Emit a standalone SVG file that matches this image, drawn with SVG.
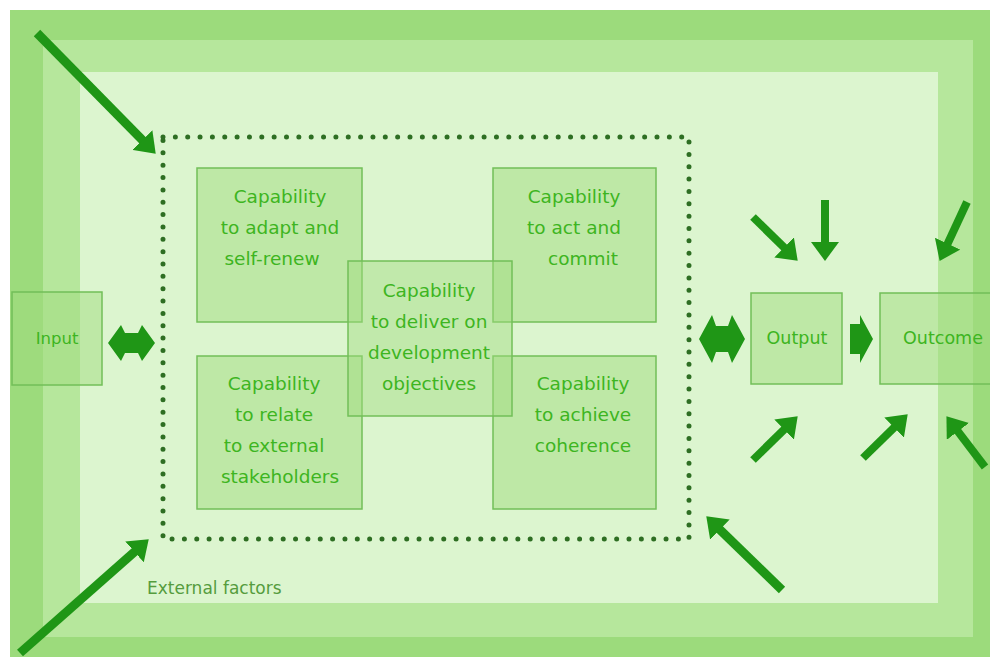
<svg xmlns="http://www.w3.org/2000/svg" width="990" height="657" viewBox="0 0 990 657">
<style>
.box{fill:#a0dc7e;fill-opacity:0.5;stroke:#72bf58;stroke-width:1.5}
.t{font-family:"DejaVu Sans","Liberation Sans",sans-serif;font-size:18.5px;fill:#3db521;text-anchor:middle}
.s{font-size:17.5px}
.arr{stroke:#1f9616;stroke-width:8;fill:none;marker-end:url(#ah)}
.big{stroke-width:9}
.dh{fill:#1f9616}
</style>
<defs>
<marker id="ah" markerUnits="userSpaceOnUse" markerWidth="19" markerHeight="28" refX="6" refY="14" orient="auto">
<path d="M0,0 L19,14 L0,28 z" fill="#1f9616"/>
</marker>
</defs>
<rect width="990" height="657" fill="#ffffff"/>
<rect x="10" y="10" width="980" height="647" fill="#9cdb7c"/>
<rect x="43" y="40" width="930" height="597" fill="#b6e79c"/>
<rect x="80" y="72" width="858" height="531" fill="#dcf5cf"/>
<rect x="163" y="137" width="526" height="402" fill="none" stroke="#2e6e23" stroke-width="5" stroke-linecap="round" stroke-dasharray="0 12.35"/>
<text class="t s" x="147" y="594" style="text-anchor:start;fill:#559c3e;font-size:17px">External factors</text>
<g id="input"><rect class="box" x="12" y="292" width="90" height="93"/><text class="t" x="57" y="344" style="font-size:16.5px">Input</text></g>
<g id="adapt"><rect class="box" x="197" y="168" width="165" height="154"/>
<text class="t" x="280" y="203">Capability</text><text class="t" x="280" y="234">to adapt and</text><text class="t" x="272" y="265">self-renew</text></g>
<g id="act"><rect class="box" x="493" y="168" width="163" height="154"/>
<text class="t" x="574" y="203">Capability</text><text class="t" x="574" y="234">to act and</text><text class="t" x="583" y="265">commit</text></g>
<g id="relate"><rect class="box" x="197" y="356" width="165" height="153"/>
<text class="t" x="274" y="390">Capability</text><text class="t" x="274" y="421">to relate</text><text class="t" x="274" y="452">to external</text><text class="t" x="280" y="483">stakeholders</text></g>
<g id="coherence"><rect class="box" x="493" y="356" width="163" height="153"/>
<text class="t" x="583" y="390">Capability</text><text class="t" x="583" y="421">to achieve</text><text class="t" x="583" y="452">coherence</text></g>
<g id="deliver"><rect class="box" x="348" y="261" width="164" height="155" style="fill-opacity:0.45"/>
<text class="t" x="429" y="297">Capability</text><text class="t" x="429" y="328">to deliver on</text><text class="t" x="429" y="359">development</text><text class="t" x="429" y="390">objectives</text></g>
<g id="output"><rect class="box" x="751" y="293" width="91" height="91"/><text class="t s" x="797" y="344">Output</text></g>
<g id="outcome"><rect class="box" x="880" y="293" width="112" height="91"/><text class="t s" x="943" y="344">Outcome</text></g>
<g id="connectors">
<polygon class="dh" points="108,343 121,325 125,333 138,333 142,325 155,343 142,361 138,353 125,353 121,361"/>
<polygon class="dh" points="699,339 712,315 716,326 728,326 732,315 745,339 732,363 728,352 716,352 712,363"/>
<polygon class="dh" points="850,324 860,324 860,315 873,339 860,363 860,354 850,354"/>
<line class="arr big" x1="37" y1="33" x2="146.6" y2="144.4"/>
<line class="arr big" x1="20" y1="653" x2="139" y2="547.9"/>
<line class="arr big" x1="782" y1="590" x2="715.6" y2="525.4"/>
<line class="arr" x1="753" y1="217" x2="788.4" y2="251.6"/>
<line class="arr" x1="825" y1="200" x2="825" y2="248"/>
<line class="arr" x1="967" y1="202" x2="945.1" y2="249.1"/>
<line class="arr" x1="753" y1="460" x2="788.4" y2="425.4"/>
<line class="arr" x1="863" y1="458" x2="898.4" y2="423.4"/>
<line class="arr" x1="985" y1="467" x2="954.3" y2="426.6"/>
</g>
</svg>
